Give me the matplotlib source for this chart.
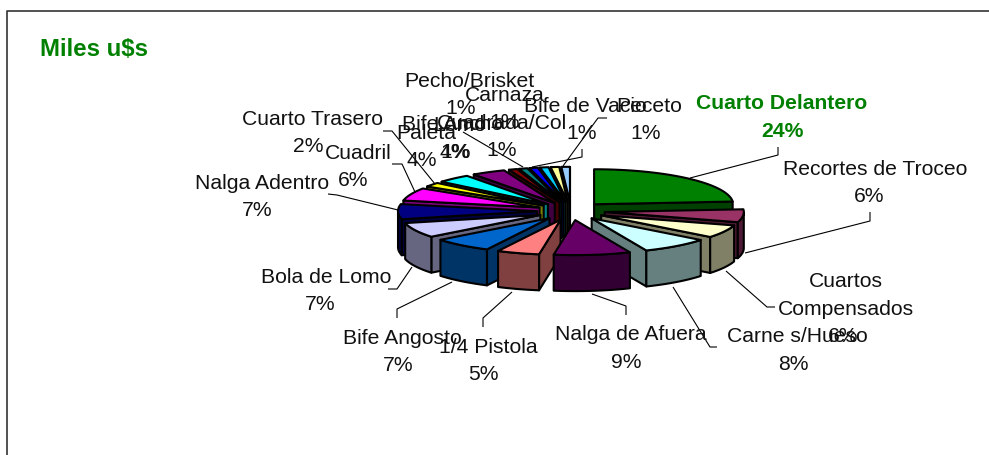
import numpy as np
import matplotlib
matplotlib.use("Agg")
import matplotlib.pyplot as plt
from matplotlib.patches import Polygon
from matplotlib.colors import to_rgb

plt.rcParams['font.family'] = ['Liberation Sans', 'DejaVu Sans']

# ---- data ----
categories = ["Cuarto Delantero", "Recortes de Troceo", "Cuartos\nCompensados", "Carne s/Hueso",
              "Nalga de Afuera", "1/4 Pistola", "Bife Angosto", "Bola de Lomo", "Nalga Adentro",
              "Cuadril", "Cuarto Trasero", "Paleta", "Bife Ancho", "Lomo", "Cuadrada/Col",
              "Pecho/Brisket", "Carnaza", "Bife de Vacio", "Peceto"]
values = [24, 6, 6, 8, 9, 5, 7, 7, 7, 6, 2, 4, 4, 1, 1, 1, 1, 1, 1]
colors = ["#008000", "#993366", "#FFFFCC", "#CCFFFF", "#660066", "#FF8080", "#0066CC", "#CCCCFF",
          "#000080", "#FF00FF", "#FFFF00", "#00FFFF", "#800080", "#800000", "#008080", "#0000FF",
          "#00CCFF", "#FFFF99", "#99CCFF"]
title = "Miles u$s"

# ---- layout (pixels) ----
W, H = 989, 456
CX, CY, RX, RY, DEPTH, EXPL, EXPL_Y = 571, 212, 139, 35, 36, 34, 0.27
# name centre x, name y of last line, percent centre x, percent y
label_pos = [(782, 102, 782, 130), (875, 168, 869, 195), (846, 308, 843, 335), (797, 335, 793, 363),
             (631, 333, 626, 361), (488, 346, 483, 373), (402, 337, 398, 364), (326, 276, 320, 303),
             (262, 182, 257, 209), (358, 152, 353, 179), (312, 118, 308, 145), (426, 132, 422, 159),
             (453, 123, 455, 151), (460, 124, 456, 151), (502, 122, 502, 149), (469, 80, 461, 107),
             (505, 94, 505, 121), (585, 105, 582, 132), (649, 105, 646, 132)]
leaders = [[(690, 179), (778, 156), (778, 148)], [(745, 254), (870, 222), (870, 213)],
           [(726, 272), (767, 308), (775, 308)], [(673, 288), (710, 348), (717, 348)],
           [(592, 295), (626, 307), (626, 316)], [(512, 293), (483, 319), (483, 328)],
           [(452, 283), (397, 310), (397, 319)], [(412, 268), (397, 290), (388, 290)],
           [(398, 211), (337, 196), (328, 195)], [(415, 193), (402, 165), (392, 165)],
           [(435, 185), (392, 132), (383, 132)], [(523, 168), (463, 133)],
           [(563, 167), (598, 119), (607, 119)], [(532, 168), (582, 158), (582, 150)]]

fig = plt.figure(figsize=(W / 100, H / 100), dpi=100)
ax = fig.add_axes([0, 0, 1, 1])
ax.set_xlim(0, W)
ax.set_ylim(H, 0)
ax.axis('off')

# chart frame (open at right and bottom: it runs past the picture)
ax.plot([6.5, 6.5, W + 5], [H + 5, 12, 12], color='#333333', lw=1.2, solid_capstyle='butt')

ax.text(40, 49, title, color='#008000', fontsize=17.3, fontweight='bold', ha='left', va='center')

# pie geometry
fr = np.array(values, float) / sum(values)
edges = np.concatenate([[0], np.cumsum(fr)]) * 2 * np.pi
EDGE = dict(edgecolor='black', linewidth=1.5, joinstyle='round')


def rim(th, cx, cy, z=0):
    return np.column_stack([cx + RX * np.sin(th), cy - RY * np.cos(th) + z])


slices = []
for i, (a, b) in enumerate(zip(edges[:-1], edges[1:])):
    m = (a + b) / 2
    slices.append((-np.cos(m), i, a, b, m))

for order, (depth_key, i, a, b, m) in enumerate(sorted(slices)):
    cx = CX + EXPL * np.sin(m)
    cy = CY - EXPL * EXPL_Y * np.cos(m)
    top = np.array(to_rgb(colors[i]))
    side = tuple(top * 0.5)
    zb = 3 * order
    apex = np.array([cx, cy])
    down = np.array([0, DEPTH])
    # radial walls facing the viewer
    for th, normal in ((a, a - np.pi / 2), (b, b + np.pi / 2)):
        if np.cos(normal - np.pi) > 0:
            r = rim(np.array([th]), cx, cy)[0]
            ax.add_patch(Polygon([apex, r, r + down, apex + down], facecolor=side, zorder=2 + zb, **EDGE))
    # outer wall (front half of the ellipse only)
    lo, hi = max(a, np.pi / 2), min(b, 3 * np.pi / 2)
    if hi > lo:
        th = np.linspace(lo, hi, 40)
        upper = rim(th, cx, cy)
        ax.add_patch(Polygon(np.vstack([upper, upper[::-1] + down]), facecolor=side, zorder=3 + zb, **EDGE))
    # top face
    th = np.linspace(a, b, 60)
    ax.add_patch(Polygon(np.vstack([apex, rim(th, cx, cy)]), facecolor=tuple(top), zorder=4 + zb, **EDGE))

for seg in leaders:
    xs, ys = zip(*seg)
    ax.plot(xs, ys, color='black', lw=0.8, zorder=200, solid_capstyle='butt')

# labels
for i, (name, v, (nx, ny, px, py)) in enumerate(zip(categories, values, label_pos)):
    kw = dict(ha='center', va='center', zorder=300, fontsize=15.2, color='#111111')
    if i == 0:
        kw.update(color='#008000', fontweight='bold')
    lines = name.split("\n")
    for k, line in enumerate(lines):
        ax.text(nx, ny + 1.5 - 28 * (len(lines) - 1 - k), line, **kw)
    ax.text(px, py + 1.5, f"{v}%", **kw)

fig.savefig('out.png', dpi=100, facecolor='white')
